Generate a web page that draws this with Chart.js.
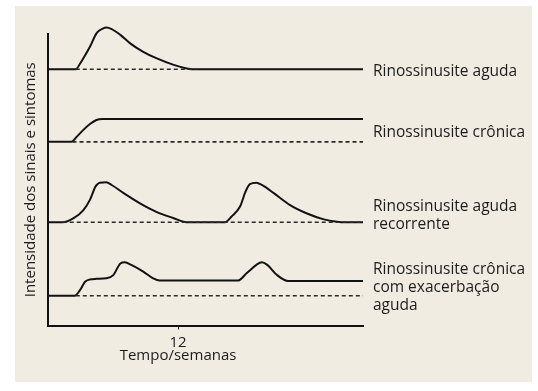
<!DOCTYPE html>
<html>
<head>
<meta charset="utf-8">
<script src="https://cdn.jsdelivr.net/npm/chart.js@4"></script>
<style>
  html, body { margin: 0; padding: 0; background: #fff; }
  #panel { position: absolute; left: 15px; top: 6px; width: 517px; height: 376px; background: #f1ece2; }
  #c { position: absolute; left: 0; top: 0; }
</style>
</head>
<body>
<div id="panel"></div>
<canvas id="c" width="538" height="391"></canvas>
<script>
// weeks on x, symptom intensity (arbitrary units) on y
var xTicks = [12];
var xTitle = 'Tempo/semanas';
var yTitle = 'Intensidade dos sinais e sintomas';

var agudaX = [0, 2.6, 3.0, 3.3, 3.9, 4.5, 4.8, 5.0, 5.4, 5.9, 6.7, 7.6, 8.8, 10.0, 11.6, 12.8, 13.7, 29];
var agudaY = [87.9, 87.9, 89.9, 91.7, 95.6, 100.2, 101.3, 101.7, 102.2, 101.7, 99.7, 96.8, 93.9, 91.7, 89.4, 88.2, 87.9, 87.9];
var agudaBaseX = [2.6, 13.7];
var agudaBaseY = [87.9, 87.9];

var cronicaX = [0, 2.2, 2.7, 3.3, 3.9, 4.5, 5.1, 29];
var cronicaY = [63.0, 63.0, 64.8, 67.1, 69.1, 70.5, 70.8, 70.8];
var cronicaBaseX = [2.3, 29];
var cronicaBaseY = [63.0, 63.0];

var recorrenteX = [0, 1.4, 2.4, 3.3, 3.9, 4.4, 4.6, 4.8, 5.4, 5.9, 7.0, 8.5, 10.0, 11.6, 12.5, 13.1,
                   16.3, 16.9, 17.7, 18.2, 18.6, 19.2, 19.7, 20.8, 22.3, 23.8, 25.4, 26.6, 27.4, 29];
var recorrenteY = [35.4, 35.4, 36.8, 39.6, 43.1, 47.6, 48.5, 49.0, 49.1, 48.2, 45.4, 41.9, 39.0, 36.8, 35.6, 35.4,
                   35.4, 37.3, 40.8, 45.9, 48.5, 49.0, 48.2, 45.4, 41.3, 38.5, 36.4, 35.6, 35.4, 35.4];
var recorrenteBaseX = [1.4, 29];
var recorrenteBaseY = [35.4, 35.4];

var exacerbacaoX = [0, 2.5, 3.0, 3.45, 3.9, 4.5, 5.4, 6.05, 6.7, 7.1, 7.7, 8.8, 9.7, 10.3,
                    17.5, 18.3, 19.2, 19.7, 20.2, 21.1, 22.1, 29];
var exacerbacaoY = [10.2, 10.2, 12.2, 15.0, 15.8, 16.0, 16.2, 17.3, 21.3, 21.7, 20.8, 18.5, 16.2, 15.4,
                    15.4, 17.9, 20.8, 21.7, 20.8, 17.3, 15.3, 15.3];
var exacerbacaoBaseX = [2.6, 29];
var exacerbacaoBaseY = [10.2, 10.2];

var seriesNames = [
  ['Rinossinusite aguda'],
  ['Rinossinusite crônica'],
  ['Rinossinusite aguda', 'recorrente'],
  ['Rinossinusite crônica', 'com exacerbação', 'aguda']
];

function pts(xs, ys) {
  return xs.map(function (x, i) { return { x: x, y: ys[i] }; });
}

function solid(xs, ys) {
  return { data: pts(xs, ys), borderColor: '#121212', borderWidth: 2, pointRadius: 0,
           cubicInterpolationMode: 'monotone', clip: false };
}
function dashed(xs, ys) {
  return { data: pts(xs, ys), borderColor: '#2a2a2a', borderWidth: 1.6, borderDash: [4, 3],
           pointRadius: 0, clip: false };
}

// first baseline of each label block (px) and line step
var labelBase = [76, 137, 211, 274];
var labelStep = 18;

var textBits = {
  id: 'textBits',
  afterDraw: function (chart) {
    var ctx = chart.ctx;
    var area = chart.chartArea;
    var x = area.right + 10;
    ctx.save();
    ctx.fillStyle = '#1c1c1c';
    ctx.font = '15.5px "Open Sans"';
    ctx.textBaseline = 'alphabetic';
    ctx.textAlign = 'left';
    seriesNames.forEach(function (lines, i) {
      lines.forEach(function (t, j) {
        ctx.fillText(t, x, labelBase[i] + j * labelStep);
      });
    });
    // axis title sits under the tick, not the axis middle
    ctx.font = '15px "Open Sans"';
    ctx.textAlign = 'center';
    ctx.fillText(xTitle, chart.scales.x.getPixelForValue(xTicks[0]), 360);
    ctx.restore();
  }
};

new Chart(document.getElementById('c'), {
  type: 'line',
  data: {
    datasets: [
      dashed(agudaBaseX, agudaBaseY),
      dashed(cronicaBaseX, cronicaBaseY),
      dashed(recorrenteBaseX, recorrenteBaseY),
      dashed(exacerbacaoBaseX, exacerbacaoBaseY),
      solid(agudaX, agudaY),
      solid(cronicaX, cronicaY),
      solid(recorrenteX, recorrenteY),
      solid(exacerbacaoX, exacerbacaoY)
    ]
  },
  options: {
    responsive: false,
    animation: false,
    devicePixelRatio: 1,
    events: [],
    layout: { padding: { left: 0, top: 34, right: 175, bottom: 0 } },
    plugins: { legend: { display: false }, tooltip: { enabled: false } },
    scales: {
      x: {
        type: 'linear', min: 0, max: 29,
        afterBuildTicks: function (s) { s.ticks = xTicks.map(function (v) { return { value: v }; }); },
        afterFit: function (s) { s.height = 65.5; },
        grid: { display: true, drawOnChartArea: false, drawTicks: true, tickLength: 4, color: '#222', lineWidth: 1 },
        border: { display: true, color: '#121212', width: 2 },
        ticks: { color: '#1c1c1c', font: { family: 'Open Sans', size: 15 }, padding: 4, maxRotation: 0,
                 autoSkip: false, callback: function (v) { return String(v); } }
      },
      y: {
        min: 0, max: 100,
        afterFit: function (s) { s.width = 47.5; },
        grid: { display: false },
        border: { display: true, color: '#121212', width: 2 },
        ticks: { display: false },
        title: { display: true, text: yTitle, color: '#1c1c1c',
                 font: { family: 'Open Sans', size: 15 }, padding: { top: 22, bottom: 0 } }
      }
    }
  },
  plugins: [textBits]
});
</script>
</body>
</html>
